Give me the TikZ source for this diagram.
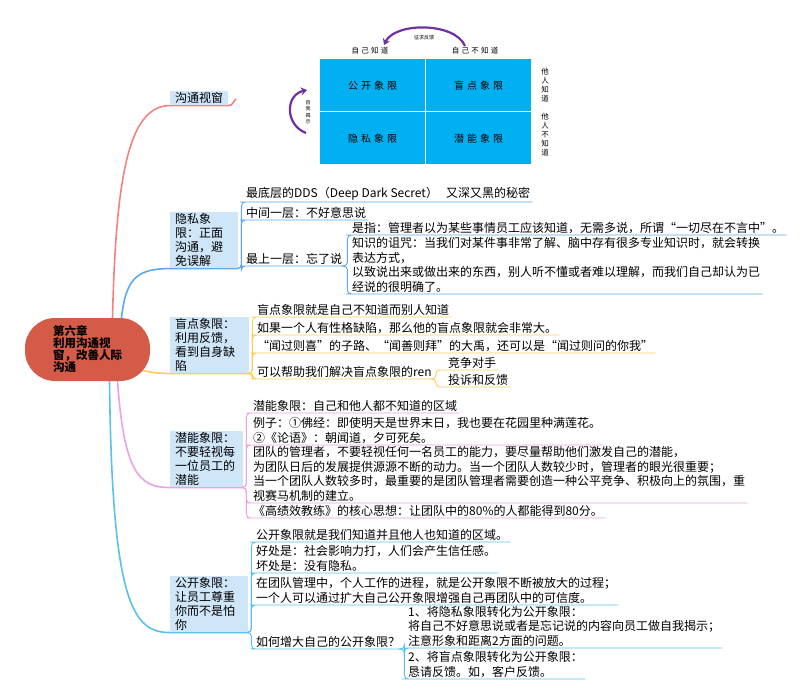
\documentclass[tikz,border=0pt]{standalone}
\usepackage{fontspec}
\setmainfont{Noto Sans CJK SC}
\newfontfamily\quadfont{Noto Sans CJK SC}[LetterSpace=30]
\usetikzlibrary{arrows.meta,positioning,backgrounds}
\definecolor{rootred}{RGB}{211,91,72}
\definecolor{boxblue}{RGB}{207,229,248}
\definecolor{winpink}{RGB}{242,130,130}
\definecolor{privblue}{RGB}{93,169,233}
\definecolor{blindyel}{RGB}{255,204,90}
\definecolor{potviol}{RGB}{238,160,228}
\definecolor{opencyan}{RGB}{91,192,235}
\definecolor{quadblue}{RGB}{0,176,240}
\definecolor{arcpurple}{RGB}{112,48,160}
\tikzset{
  rootnode/.style={fill=rootred, rounded corners=30pt, minimum width=125pt, minimum height=63pt,
    inner sep=0pt, align=left, font=\fontsize{11.5}{12}\selectfont\bfseries},
  topic/.style={fill=boxblue, anchor=north west, align=left, inner xsep=5pt, inner ysep=1.5pt,
    font=\fontsize{12}{14}\selectfont},
  leaf/.style={anchor=south west, align=left, inner xsep=2pt, inner ysep=1.5pt,
    font=\fontsize{12}{14.5}\selectfont},
  trunk/.style={line width=1.6pt},
  twig/.style={line width=0.9pt, rounded corners=4pt},
  quad/.style={fill=quadblue, anchor=north west, minimum width=105pt, minimum height=52pt,
    inner sep=0pt, font=\quadfont\fontsize{10}{12}\selectfont},
  axislabel/.style={inner sep=0pt, align=center, font=\quadfont\fontsize{7.5}{9}\selectfont},
  minilabel/.style={inner sep=0pt, align=center, font=\fontsize{5}{6.5}\selectfont},
  bendarrow/.style={arcpurple, line width=2.2pt, -{Stealth[length=6pt,width=8pt]}}
}

\begin{document}
\begin{tikzpicture}[x=1pt,y=-1pt]
\useasboundingbox (0,0) rectangle (800,699);

% Johari window
\node[quad] (q11) at (320,59) {公开象限};
\node[quad] (q12) at (426,59) {盲点象限};
\node[quad] (q21) at (320,112) {隐私象限};
\node[quad] (q22) at (426,112) {潜能象限};
\node[axislabel] (kself) at (370,51) {自己知道};
\node[axislabel] (kunself) at (475,51) {自己不知道};
\node[axislabel] (oknow) at (545,85) {他\\人\\知\\道};
\node[axislabel] (ounknow) at (545,135) {他\\人\\不\\知\\道};
\draw[bendarrow] (465,46) .. controls (455,22) and (395,22) .. (384,45);
\node[minilabel] (fb) at (424,38) {征求反馈};
\draw[bendarrow] (306,133) .. controls (285,125) and (285,95) .. (307,90);
\node[minilabel] (sd) at (308,112) {自\\我\\揭\\示};

% root and main topics
\node[rootnode] (root) at (87.5,349.5) {第六章\\利用沟通视\\窗，改善人际\\沟通};
\node[topic, text width=48pt] (win) at (170,91) {沟通视窗};
\node[topic, text width=58pt] (priv) at (170,212) {隐私象\\限：正面\\沟通，避\\免误解};
\node[topic, text width=69pt] (blind) at (170,317) {盲点象限：\\利用反馈，\\看到自身缺\\陷};
\node[topic, text width=63pt] (pot) at (170,431) {潜能象限：\\不要轻视每\\一位员工的\\潜能};
\node[topic, text width=68pt] (open) at (170,576) {公开象限：\\让员工尊重\\你而不是怕\\你};
\coordinate (winimg) at (236,99);

\begin{pgfonlayer}{background}
\draw[trunk, winpink] ([xshift=25pt]root.north) .. controls (116,170) and (130,106) .. (win.south west)
  -- (win.south east) .. controls +(5,0) and +(-3,2) .. (winimg);
\draw[trunk, privblue] ([xshift=34pt]root.north) .. controls (126,275) and (140,269) .. (priv.south west)
  -- (priv.south east);
\draw[trunk, blindyel] ([xshift=-8pt,yshift=-21pt]root.east) .. controls (155,373) .. (blind.south west)
  -- (blind.south east);
\draw[trunk, potviol] ([xshift=30pt]root.south) .. controls (124,470) and (138,488) .. (pot.south west)
  -- (pot.south east);
\draw[trunk, opencyan] ([xshift=22pt]root.south) .. controls (112,600) and (132,633) .. (open.south west)
  -- (open.south east);
\end{pgfonlayer}

% privacy quadrant
\node[leaf] (pv1) at (244,202) {\makebox[200pt][l]{最底层的DDS（Deep Dark Secret）}又深又黑的秘密};
\node[leaf] (pv2) at (244,220) {中间一层：不好意思说};
\node[leaf] (pv3) at (244,266) {最上一层：忘了说};
\node[leaf] (pv31) at (350,235) {是指：管理者以为某些事情员工应该知道，无需多说，所谓“一切尽在不言中”。};
\node[leaf] (pv32) at (350,294) {知识的诅咒：当我们对某件事非常了解、脑中存有很多专业知识时，就会转换\\表达方式，\\以致说出来或做出来的东西，别人听不懂或者难以理解，而我们自己却认为已\\经说的很明确了。};
\foreach \c in {pv1,pv2,pv3}
  \draw[twig, privblue] (priv.south east) -- ++(3,0) |- (\c.south west) -- (\c.south east);
\foreach \c in {pv31,pv32}
  \draw[twig, privblue] (pv3.south east) -- ++(3,0) |- (\c.south west) -- (\c.south east);

% blind quadrant
\node[leaf] (bs1) at (255,317) {盲点象限就是自己不知道而别人知道};
\node[leaf] (bs2) at (255,335) {如果一个人有性格缺陷，那么他的盲点象限就会非常大。};
\node[leaf] (bs3) at (255,353) {“闻过则喜”的子路、“闻善则拜”的大禹，还可以是“闻过则问的你我”};
\node[leaf] (bs4) at (255,379) {可以帮助我们解决盲点象限的ren};
\node[leaf] (bs41) at (446,370) {竞争对手};
\node[leaf] (bs42) at (446,387) {投诉和反馈};
\foreach \c in {bs1,bs2,bs3,bs4}
  \draw[twig, blindyel] (blind.south east) -- ++(3,0) |- (\c.south west) -- (\c.south east);
\foreach \c in {bs41,bs42}
  \draw[twig, blindyel] (bs4.south east) -- ++(2,0) |- (\c.south west) -- (\c.south east);

% potential quadrant
\node[leaf] (pt1) at (251,413) {潜能象限：自己和他人都不知道的区域};
\node[leaf] (pt2) at (251,445) {例子：①佛经：即使明天是世界末日，我也要在花园里种满莲花。\\②《论语》：朝闻道，夕可死矣。};
\node[leaf] (pt3) at (251,503) {团队的管理者，不要轻视任何一名员工的能力，要尽量帮助他们激发自己的潜能，\\为团队日后的发展提供源源不断的动力。当一个团队人数较少时，管理者的眼光很重要；\\当一个团队人数较多时，最重要的是团队管理者需要创造一种公平竞争、积极向上的氛围，重\\视赛马机制的建立。};
\node[leaf] (pt4) at (251,518) {《高绩效教练》的核心思想：让团队中的80\%的人都能得到80分。};
\foreach \c in {pt1,pt2,pt3,pt4}
  \draw[twig, potviol] (pot.south east) -- ++(3,0) |- (\c.south west) -- (\c.south east);

% open quadrant
\node[leaf] (gk1) at (254,542) {公开象限就是我们知道并且他人也知道的区域。};
\node[leaf] (gk2) at (254,573) {好处是：社会影响力打，人们会产生信任感。\\坏处是：没有隐私。};
\node[leaf] (gk3) at (254,605) {在团队管理中，个人工作的进程，就是公开象限不断被放大的过程；\\一个人可以通过扩大自己公开象限增强自己再团队中的可信度。};
\node[leaf] (gk4) at (254,649) {如何增大自己的公开象限？};
\node[leaf] (gk41) at (406,648) {1、将隐私象限转化为公开象限：\\将自己不好意思说或者是忘记说的内容向员工做自我揭示；\\注意形象和距离2方面的问题。};
\node[leaf] (gk42) at (406,679) {2、将盲点象限转化为公开象限：\\恳请反馈。如，客户反馈。};
\foreach \c in {gk1,gk2,gk3,gk4}
  \draw[twig, opencyan] (open.south east) -- ++(3,0) |- (\c.south west) -- (\c.south east);
\foreach \c in {gk41,gk42}
  \draw[twig, opencyan] (gk4.south east) -- ++(2,0) |- (\c.south west) -- (\c.south east);
\end{tikzpicture}
\end{document}
